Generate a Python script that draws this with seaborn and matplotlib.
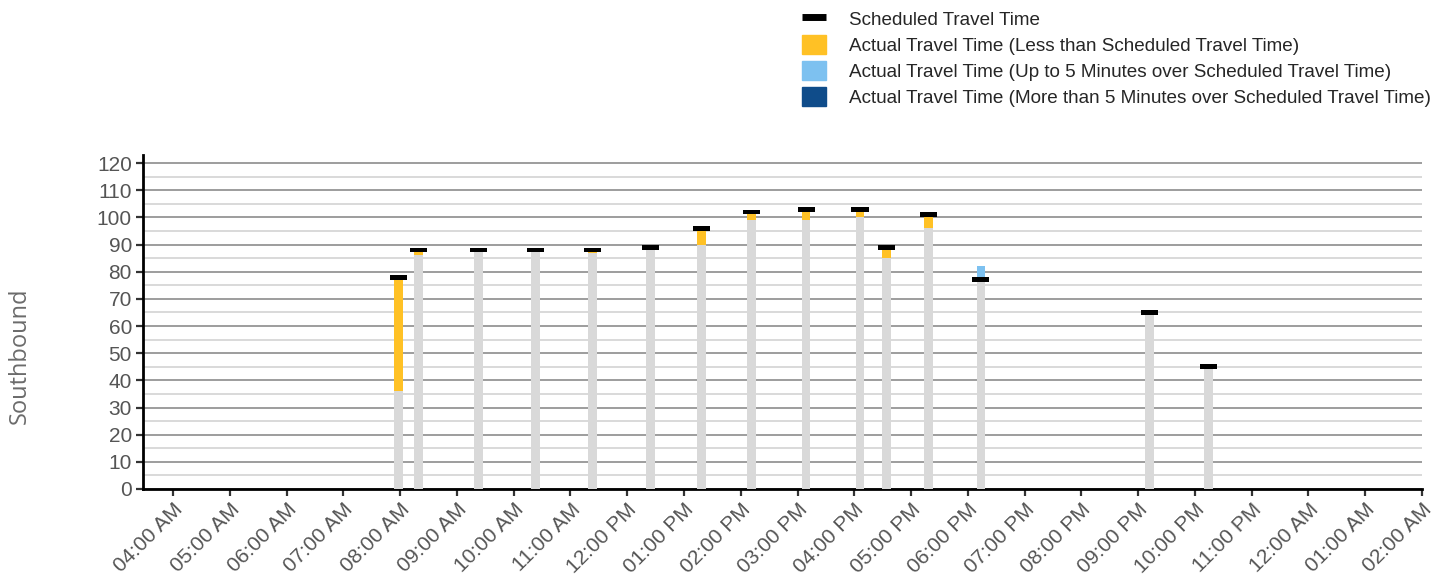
import numpy as np
import pandas as pd
import seaborn as sns
import matplotlib.pyplot as plt
from matplotlib.lines import Line2D
from matplotlib.patches import Patch
from matplotlib.ticker import MultipleLocator

# departure times (hours after midnight) and travel times in minutes
trip_hours = [7.97, 8.32, 9.38, 10.38, 11.39, 12.41, 13.31, 14.19, 15.15,
              16.10, 16.56, 17.30, 18.23, 21.20, 22.24]
scheduled = [78, 88, 88, 88, 88, 89, 96, 102, 103, 103, 89, 101, 77, 65, 45]
actual = [36, 86, 88, 88, 87, 89, 90, 99, 99, 100, 85, 96, 82, 65.6, 45]

tick_hours = list(range(4, 27))
tick_labels = ["04:00 AM", "05:00 AM", "06:00 AM", "07:00 AM", "08:00 AM", "09:00 AM",
               "10:00 AM", "11:00 AM", "12:00 PM", "01:00 PM", "02:00 PM", "03:00 PM",
               "04:00 PM", "05:00 PM", "06:00 PM", "07:00 PM", "08:00 PM", "09:00 PM",
               "10:00 PM", "11:00 PM", "12:00 AM", "01:00 AM", "02:00 AM"]

c_gray = "#d9d9d9"
c_less = "#ffc125"
c_up5 = "#7dc1f0"
c_over5 = "#0f4c8a"

sns.set_style("white")
plt.rcParams['font.family'] = ['Liberation Sans', 'DejaVu Sans']

df = pd.DataFrame({"hour": trip_hours, "sched": scheduled, "actual": actual})
df["base"] = df[["sched", "actual"]].min(axis=1)
df["diff"] = (df["actual"] - df["sched"]).abs()
df["color"] = np.where(df["actual"] < df["sched"], c_less,
                       np.where(df["actual"] - df["sched"] <= 5, c_up5, c_over5))

fig = plt.figure(figsize=(14.48, 5.8), dpi=100)
ax = fig.add_axes([143 / 1448, 1 - 489 / 580, (1422 - 143) / 1448, (489 - 155) / 580])

bar_w = 0.155  # in hours
min_gap = np.min(np.diff(np.sort(df["hour"].values)))
sns.barplot(data=df, x="hour", y="base", native_scale=True, width=bar_w / min_gap,
            color=c_gray, saturation=1, ax=ax, zorder=3, linewidth=0)

ax.bar(df["hour"], df["diff"], bottom=df["base"], width=bar_w, color=df["color"],
       zorder=3, linewidth=0)
ax.bar(df["hour"], 1.8, bottom=df["sched"] - 0.9, width=0.3, color="black",
       zorder=4, linewidth=0)

ax.set_xlim(3.47, 26.0)
ax.set_ylim(0, 123)
ax.set_xticks(tick_hours)
ax.set_xticklabels(tick_labels, rotation=45, ha="right", rotation_mode="anchor",
                   fontsize=15, color="#555555")
ax.set_yticks(range(0, 121, 10))
ax.set_yticklabels([str(v) for v in range(0, 121, 10)], fontsize=15, color="#555555")
ax.yaxis.set_minor_locator(MultipleLocator(5))
ax.grid(axis="y", which="major", color="#959595", lw=1.3, zorder=0)
ax.grid(axis="y", which="minor", color="#d0d0d0", lw=1.1, zorder=0)
ax.set_axisbelow(True)
ax.tick_params(axis="both", which="major", length=5, width=1.6, color="#333333",
               direction="out", left=True, bottom=True, pad=3)
ax.tick_params(axis="y", which="minor", length=0)
for s in ["top", "right"]:
    ax.spines[s].set_visible(False)
for s in ["left", "bottom"]:
    ax.spines[s].set_color("black")
    ax.spines[s].set_linewidth(2)
ax.set_xlabel("")
ax.set_ylabel("")

fig.text(20 / 1448, 1 - 356 / 580, "Southbound", rotation=90, ha="center", va="center",
         fontsize=17, color="#6b6b6b", family=["Open Sans", "DejaVu Sans"])

handles = [
    Line2D([], [], color="black", lw=5, solid_capstyle="butt"),
    Patch(color=c_less),
    Patch(color=c_up5),
    Patch(color=c_over5),
]
labels = [
    "Scheduled Travel Time",
    "Actual Travel Time (Less than Scheduled Travel Time)",
    "Actual Travel Time (Up to 5 Minutes over Scheduled Travel Time)",
    "Actual Travel Time (More than 5 Minutes over Scheduled Travel Time)",
]
fig.legend(handles, labels, loc="upper left", bbox_to_anchor=(793 / 1448, 1.0),
           frameon=False, fontsize=13.6, handlelength=1.25, handleheight=1.15,
           labelspacing=0.32, handletextpad=1.2, borderaxespad=0.1)

fig.savefig("out.png", dpi=100)
